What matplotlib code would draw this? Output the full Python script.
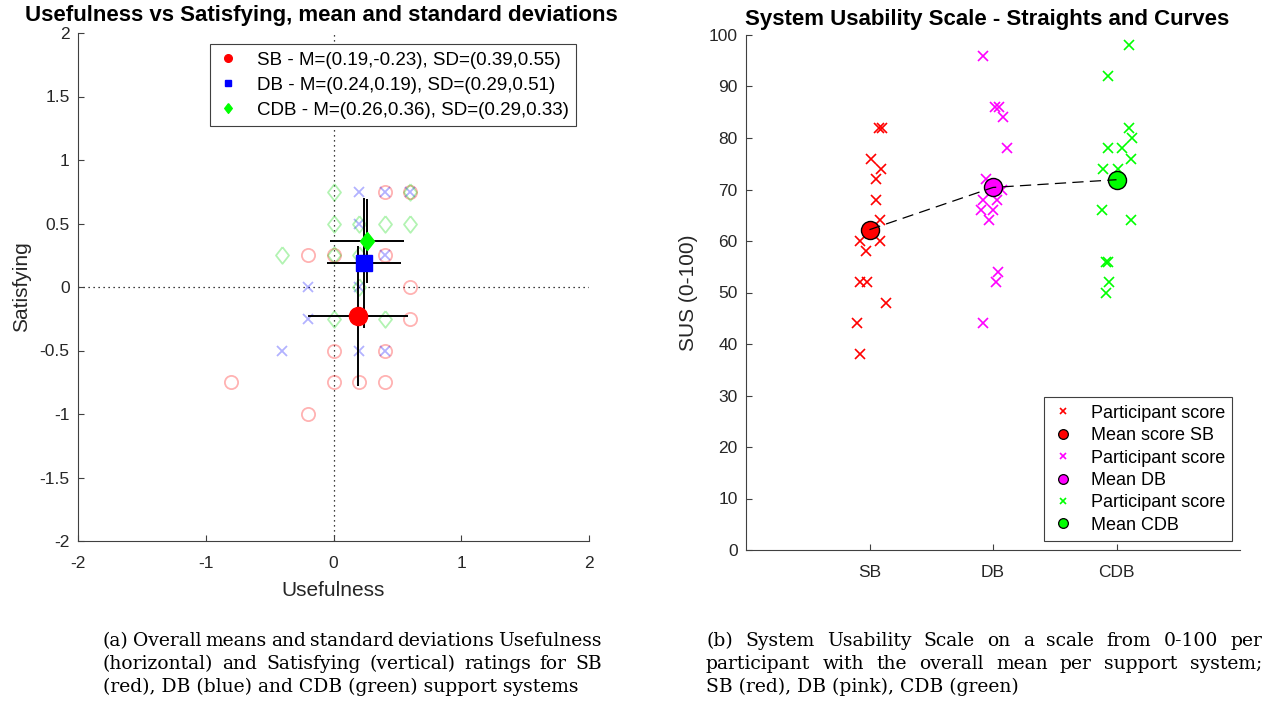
import matplotlib
matplotlib.use("Agg")
import matplotlib.pyplot as plt
from matplotlib.lines import Line2D
from matplotlib.transforms import IdentityTransform

plt.rcParams['font.family'] = ['Liberation Sans', 'DejaVu Sans']
plt.rcParams['axes.unicode_minus'] = False

# ---------------- data: left chart (Usefulness vs Satisfying) ----------------
sb_use = [0.4, 0.6, -0.2, 0.0, 0.4, 0.6, 0.6, 0.0, 0.4, -0.8, 0.0, 0.2, 0.4, -0.2]
sb_sat = [0.75, 0.75, 0.25, 0.25, 0.25, 0.0, -0.25, -0.5, -0.5, -0.75, -0.75, -0.75, -0.75, -1.0]
db_use = [0.2, 0.4, 0.6, 0.2, 0.4, -0.2, 0.2, -0.2, -0.4, 0.2, 0.4]
db_sat = [0.75, 0.75, 0.75, 0.5, 0.25, 0.0, 0.0, -0.25, -0.5, -0.5, -0.5]
cdb_use = [0.0, 0.6, 0.0, 0.2, 0.4, 0.6, -0.4, 0.0, 0.2, 0.2, 0.0, 0.4]
cdb_sat = [0.75, 0.75, 0.5, 0.5, 0.5, 0.5, 0.25, 0.25, 0.25, 0.0, -0.25, -0.25]

systems = ['SB', 'DB', 'CDB']
mean_use = [0.19, 0.24, 0.26]
mean_sat = [-0.23, 0.19, 0.36]
sd_use = [0.39, 0.29, 0.29]
sd_sat = [0.55, 0.51, 0.33]

# ---------------- data: right chart (SUS) ----------------
sus_sb_x = [1.075, 1.103, 1.016, 1.097, 1.054, 1.054, 1.083, 0.927, 1.089, 0.973, 0.927, 0.981, 1.135, 0.895, 0.927]
sus_sb_y = [82, 82, 76, 74, 72, 68, 64, 60, 60, 58, 52, 52, 48, 44, 38]
sus_db_x = [1.921, 2.016, 2.049, 2.083, 2.111, 1.941, 2.070, 1.921, 2.035, 1.903, 1.998, 1.970, 2.038, 2.024, 1.921]
sus_db_y = [96, 86, 86, 84, 78, 72, 70, 68, 68, 66, 66, 64, 54, 52, 44]
sus_cdb_x = [3.105, 2.930, 3.100, 3.127, 2.930, 3.046, 3.119, 2.889, 3.011, 2.884, 3.119, 2.917, 2.930, 2.938, 2.917]
sus_cdb_y = [98, 92, 82, 80, 78, 78, 76, 74, 74, 66, 64, 56, 56, 52, 50]
sus_mean_x = [1, 2, 3]
sus_mean_y = [62.2, 70.4, 71.9]
sus_ticks = [1, 2, 3]
sus_ticklabels = ['SB', 'DB', 'CDB']

W, H = 1268, 710
fig = plt.figure(figsize=(W / 100, H / 100), dpi=100)

AXC = '#262626'
diamond = [(0, 1), (0.78, 0), (0, -1), (-0.78, 0), (0, 1)]


def style_axes(ax):
    for s in ['top', 'right']:
        ax.spines[s].set_visible(False)
    for s in ['left', 'bottom']:
        ax.spines[s].set_color('#404040')
        ax.spines[s].set_linewidth(0.8)
    ax.tick_params(direction='in', length=4, width=0.8, colors='#404040',
                   labelcolor=AXC, labelsize=12.5)
    ax.tick_params(axis='y', pad=6)
    ax.tick_params(axis='x', pad=11)


# ---------------- left axes ----------------
ax1 = fig.add_axes([78 / W, 1 - 541 / H, 511 / W, 508 / H])
style_axes(ax1)
ax1.set_xlim(-2, 2)
ax1.set_ylim(-2, 2)
ax1.set_xticks([-2, -1, 0, 1, 2])
ax1.set_yticks([-2, -1.5, -1, -0.5, 0, 0.5, 1, 1.5, 2])
ax1.set_yticklabels(['-2', '-1.5', '-1', '-0.5', '0', '0.5', '1', '1.5', '2'])
ax1.axhline(0, color='black', lw=0.9, ls=(0, (1, 3)), zorder=1)
ax1.axvline(0, color='black', lw=0.9, ls=(0, (1, 3)), zorder=1)

ax1.plot(sb_use, sb_sat, ls='none', marker='o', ms=9.5, mfc='none',
         mec=(1, 0, 0, 0.3), mew=1.3, zorder=2)
ax1.plot(db_use, db_sat, ls='none', marker='x', ms=7, mec=(0, 0, 1, 0.3),
         mew=1.3, zorder=2)
ax1.plot(cdb_use, cdb_sat, ls='none', marker=diamond, ms=12, mfc='none',
         mec=(0, 0.85, 0, 0.3), mew=1.3, zorder=2)

mean_colors = ['#ff0000', '#0000ff', '#00ff00']
mean_markers = ['o', 's', diamond]
mean_sizes = [13, 11.5, 13]
for i in range(3):
    ax1.errorbar(mean_use[i], mean_sat[i], xerr=sd_use[i], yerr=sd_sat[i],
                 fmt='none', ecolor='black', elinewidth=1.4, capsize=0, zorder=3)
    ax1.plot(mean_use[i], mean_sat[i], ls='none', marker=mean_markers[i],
             ms=mean_sizes[i], color=mean_colors[i], mec=mean_colors[i], zorder=4)

leg1_handles = [
    Line2D([], [], ls='none', marker='o', ms=5.5, color='#ff0000'),
    Line2D([], [], ls='none', marker='s', ms=5, color='#0000ff'),
    Line2D([], [], ls='none', marker=diamond, ms=7, color='#00ff00'),
]
leg1_labels = ['%s - M=(%.2f,%.2f), SD=(%.2f,%.2f)' % (systems[i], mean_use[i], mean_sat[i], sd_use[i], sd_sat[i])
               for i in range(3)]
leg1 = ax1.legend(leg1_handles, leg1_labels, loc='upper center',
                  bbox_to_anchor=(0.616, 1 - 11 / 508), fontsize=13.5,
                  frameon=True, fancybox=False, edgecolor='#404040',
                  framealpha=1, handlelength=1.2, handletextpad=0.9,
                  labelspacing=0.42, borderpad=0.4, borderaxespad=0)
leg1.get_frame().set_linewidth(0.8)
leg1.set_zorder(10)

ax1.set_xlabel('Usefulness', fontsize=15, color=AXC, labelpad=7)
ax1.set_ylabel('Satisfying', fontsize=15, color=AXC, labelpad=6)
ax1.set_title('Usefulness vs Satisfying, mean and standard deviations',
              fontsize=16, fontweight='bold', pad=8.5, x=0.476)

# ---------------- right axes ----------------
ax2 = fig.add_axes([746 / W, 1 - 550 / H, 494 / W, 515 / H])
style_axes(ax2)
ax2.set_xlim(0, 4)
ax2.set_ylim(0, 100)
ax2.set_yticks(range(0, 101, 10))
ax2.set_xticks(sus_ticks)
ax2.set_xticklabels(sus_ticklabels)

ax2.plot(sus_mean_x, sus_mean_y, color='black', lw=0.9, ls=(0, (9, 5)), zorder=3)
ax2.plot(sus_sb_x, sus_sb_y, ls='none', marker='x', ms=7, mew=1.2, color='#ff0000', zorder=2)
ax2.plot(sus_db_x, sus_db_y, ls='none', marker='x', ms=7, mew=1.2, color='#ff00ff', zorder=2)
ax2.plot(sus_cdb_x, sus_cdb_y, ls='none', marker='x', ms=7, mew=1.2, color='#00ff00', zorder=2)
sus_colors = ['#ff0000', '#ff00ff', '#00ff00']
for i in range(3):
    ax2.plot(sus_mean_x[i], sus_mean_y[i], ls='none', marker='o', ms=13,
             mfc=sus_colors[i], mec='black', mew=1.0, zorder=2.5)

leg2_handles = []
leg2_labels = ['Participant score', 'Mean score SB', 'Participant score',
               'Mean DB', 'Participant score', 'Mean CDB']
for c in sus_colors:
    leg2_handles.append(Line2D([], [], ls='none', marker='x', ms=4.5, mew=1.2, color=c))
    leg2_handles.append(Line2D([], [], ls='none', marker='o', ms=7, mfc=c, mec='black', mew=0.9))
leg2 = ax2.legend(leg2_handles, leg2_labels, loc='lower right',
                  bbox_to_anchor=(1 - 8 / 494, 9 / 515), fontsize=13,
                  frameon=True, fancybox=False, edgecolor='#404040',
                  framealpha=1, handlelength=1.3, handletextpad=0.9,
                  labelspacing=0.3, borderpad=0.4, borderaxespad=0)
leg2.get_frame().set_linewidth(0.8)

ax2.set_ylabel('SUS (0-100)', fontsize=15, color=AXC, labelpad=8)
ax2.set_title('System Usability Scale - Straights and Curves',
              fontsize=16, fontweight='bold', pad=7.5, x=0.488)

# ---------------- captions ----------------
renderer = fig.canvas.get_renderer()
CAP = dict(family=['DejaVu Serif'], fontsize=13.5, color='black')


def caption_line(text, x0, x1, y_px, justify=True):
    words = text.split(' ')
    if not justify:
        fig.text(x0, H - y_px, text, transform=IdentityTransform(), va='baseline', **CAP)
        return
    ts = [fig.text(0, H - y_px, w, transform=IdentityTransform(), va='baseline', **CAP) for w in words]
    widths = [t.get_window_extent(renderer).width for t in ts]
    gap = (x1 - x0 - sum(widths)) / (len(words) - 1)
    x = x0
    for t, w in zip(ts, widths):
        t.set_x(x)
        x += w + gap


caption_line('(a) Overall means and standard deviations Usefulness', 103, 602, 646)
caption_line('(horizontal) and Satisfying (vertical) ratings for SB', 103, 602, 669)
caption_line('(red), DB (blue) and CDB (green) support systems', 103, 602, 692, justify=False)
caption_line('(b) System Usability Scale on a scale from 0-100 per', 706, 1262, 646)
caption_line('participant with the overall mean per support system;', 706, 1262, 669)
caption_line('SB (red), DB (pink), CDB (green)', 706, 1262, 692, justify=False)

fig.savefig('out.png', dpi=100)
